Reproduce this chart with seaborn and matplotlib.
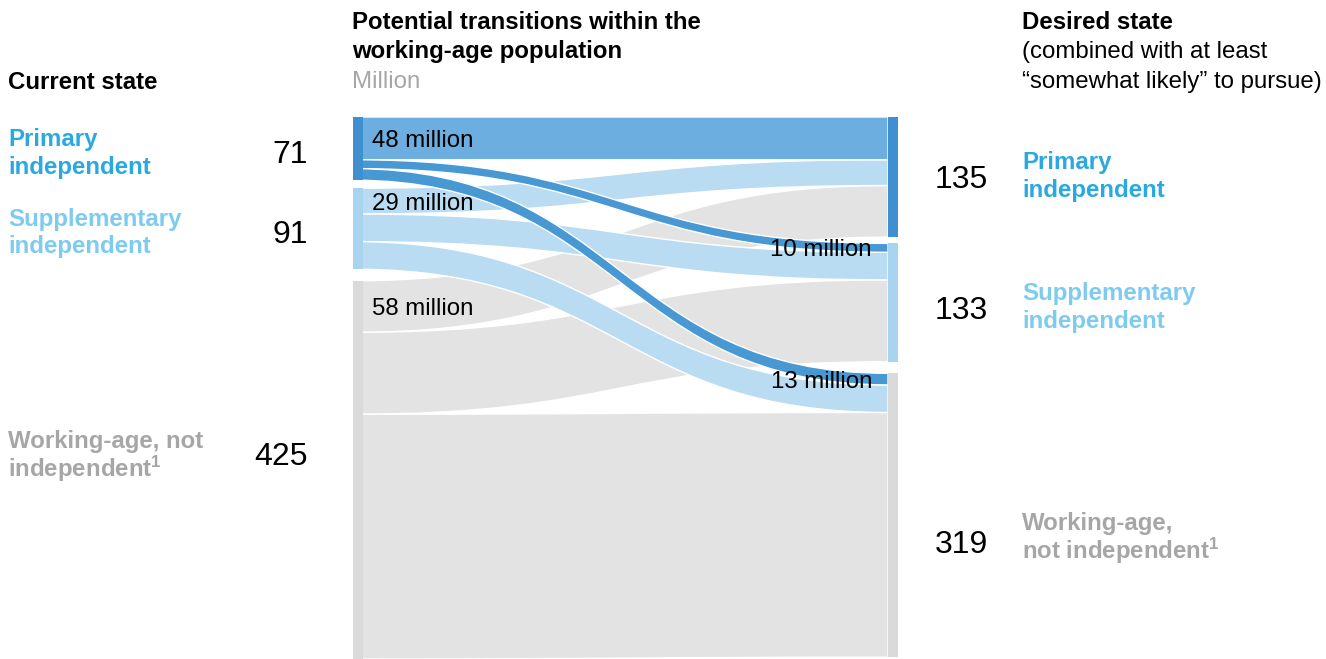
import numpy as np
import matplotlib
matplotlib.use("Agg")
import matplotlib.pyplot as plt
from matplotlib.path import Path
from matplotlib.patches import PathPatch, Rectangle
import seaborn as sns

# ---------------- data ----------------
states_left = ["Primary\nindependent", "Supplementary\nindependent", "Working-age, not\nindependent$^{\\mathregular{1}}$"]
states_right = ["Primary\nindependent", "Supplementary\nindependent", "Working-age,\nnot independent$^{\\mathregular{1}}$"]
current_totals = [71, 91, 425]
desired_totals = [135, 133, 319]
# flows from each current state to desired states (Primary, Supplementary, Not independent)
flow_from_primary = [48, 10, 13]
flow_from_supplementary = [29, 31, 31]
flow_from_not_independent = [58, 92, 275]
flow_labels = {(0, 0): "48 million", (1, 0): "29 million", (2, 0): "58 million",
               (0, 1): "10 million", (0, 2): "13 million"}

flows = np.array([flow_from_primary, flow_from_supplementary, flow_from_not_independent])

# ---------------- style ----------------
sns.set_theme(style="white")
plt.rcParams['font.family'] = ['Liberation Sans', 'DejaVu Sans']
plt.rcParams['mathtext.default'] = 'regular'

W, H = 1326, 659
fig = plt.figure(figsize=(W / 100, H / 100), dpi=100)

label_colors = ['#29a9e0', '#7dcbef', '#a6a6a6']
node_colors = ['#3f8fd1', '#a9d4ef', '#dadada']
flow_colors = [['#6caee0', '#4898d4', '#4898d4'],
               ['#b9dcf2', '#b9dcf2', '#b9dcf2'],
               ['#e3e3e3', '#e3e3e3', '#e3e3e3']]
left_gaps = [9, 13]
right_gaps = [7, 13]

# axes for the sankey region
x0_px, x1_px, top_px = 353, 898, 117
ax = fig.add_axes([x0_px / W, 0, (x1_px - x0_px) / W, (H - top_px) / H])
total = sum(current_totals) + sum(left_gaps)
ax.set_xlim(0, 1)
ax.set_ylim(total, 0)
ax.axis('off')
nw = 10 / (x1_px - x0_px)

# node positions
def starts(totals, gaps):
    s, pos = [], 0
    for i, t in enumerate(totals):
        s.append(pos)
        pos += t + (gaps[i] if i < len(gaps) else 0)
    return s

left_start = starts(current_totals, left_gaps)
right_start = starts(desired_totals, right_gaps)

# compute flow segments
seg = {}
for i in range(3):
    pos = left_start[i]
    for j in range(3):
        seg[(i, j)] = [pos, pos + flows[i, j]]
        pos += flows[i, j]
for j in range(3):
    pos = right_start[j]
    for i in range(3):
        seg[(i, j)] += [pos, pos + flows[i, j]]
        pos += flows[i, j]

xa, xb = 0.0, 1 - nw
xm = (xa + xb) / 2
for i in [2, 1, 0]:
    for j in range(3):
        lt, lb, rt, rb = seg[(i, j)]
        verts = [(xa, lt), (xm, lt), (xm, rt), (xb, rt), (xb, rb),
                 (xm, rb), (xm, lb), (xa, lb), (xa, lt)]
        codes = [Path.MOVETO, Path.CURVE4, Path.CURVE4, Path.CURVE4, Path.LINETO,
                 Path.CURVE4, Path.CURVE4, Path.CURVE4, Path.CLOSEPOLY]
        ax.add_patch(PathPatch(Path(verts, codes), facecolor=flow_colors[i][j],
                               edgecolor='white', lw=1.0, zorder=2 + (2 - i)))

for i in range(3):
    ax.add_patch(Rectangle((0, left_start[i]), nw, current_totals[i],
                           facecolor=node_colors[i], edgecolor='none', zorder=6))
    ax.add_patch(Rectangle((1 - nw, right_start[i]), nw, desired_totals[i],
                           facecolor=node_colors[i], edgecolor='none', zorder=6))

# flow labels (baseline placed a half cap-height below the band centre)
FS = 17.3
half_cap = 9.5
for (i, j), txt in flow_labels.items():
    lt, lb, rt, rb = seg[(i, j)]
    if j == 0:
        ax.text((372 - x0_px) / (x1_px - x0_px), (lt + lb) / 2 + half_cap, txt, ha='left',
                va='baseline', fontsize=FS, color='black', zorder=10)
    else:
        ax.text((872 - x0_px) / (x1_px - x0_px), (rt + rb) / 2 + half_cap, txt, ha='right',
                va='baseline', fontsize=FS, color='black', zorder=10)

# ---------------- text ----------------
def put(x, y, s, **kw):
    fig.text(x / W, 1 - y / H, s, va='baseline', **kw)

put(8, 89, "Current state", fontsize=FS, fontweight='bold', color='black')
put(352, 29, "Potential transitions within the", fontsize=FS, fontweight='bold', color='black')
put(352, 58, "working-age population", fontsize=FS, fontweight='bold', color='black')
put(352, 88, "Million", fontsize=FS, color='#a6a6a6')
put(1022, 29, "Desired state", fontsize=FS, fontweight='bold', color='black')
put(1022, 58, "(combined with at least", fontsize=FS, color='black')
put(1022, 88, "\u201csomewhat likely\u201d to pursue)", fontsize=FS, color='black')

left_label_y = [(146, 174), (226, 253), (448, 477)]
left_num_y = [163, 243, 465]
for k in range(3):
    l1, l2 = states_left[k].split("\n")
    put(8, left_label_y[k][0], l1, fontsize=FS, fontweight='bold', color=label_colors[k])
    put(8, left_label_y[k][1], l2, fontsize=FS, fontweight='bold', color=label_colors[k])
    put(308, left_num_y[k], str(current_totals[k]), fontsize=23, ha='right', color='black')

right_label_y = [(169, 197), (300, 328), (530, 559)]
right_num_y = [188, 319, 553]
for k in range(3):
    l1, l2 = states_right[k].split("\n")
    put(1022, right_label_y[k][0], l1, fontsize=FS, fontweight='bold', color=label_colors[k])
    put(1022, right_label_y[k][1], l2, fontsize=FS, fontweight='bold', color=label_colors[k])
    put(988, right_num_y[k], str(desired_totals[k]), fontsize=23, ha='right', color='black')

fig.savefig("out.png", dpi=100)
